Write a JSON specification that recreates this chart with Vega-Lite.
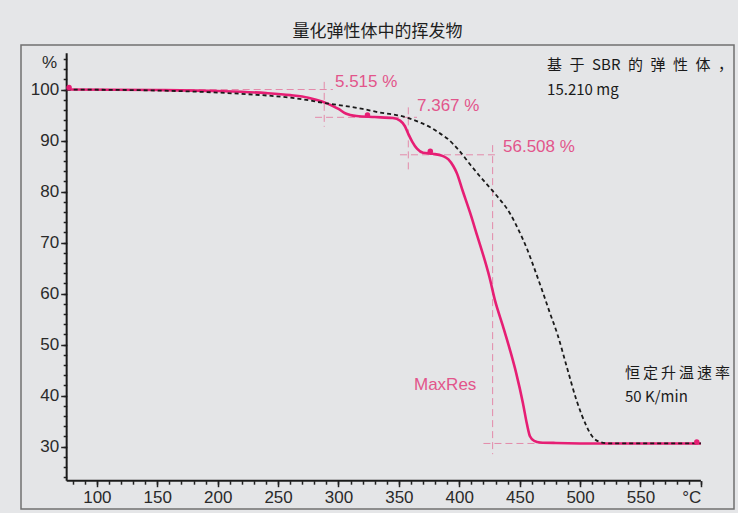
{
  "$schema": "https://vega.github.io/schema/vega-lite/v6.json",
  "width": 713,
  "height": 464,
  "autosize": "none",
  "padding": {"left": 21, "top": 45, "right": 4, "bottom": 4},
  "background": "#e5e6e8",
  "view": {"stroke": "#707070", "strokeWidth": 1.5, "fill": "#e4e5e7"},
  "title": {"text": "量化弹性体中的挥发物", "font": "Noto Sans CJK SC", "fontSize": 17, "fontWeight": "normal", "color": "#1e1e1e", "anchor": "middle", "offset": 4},
  "resolve": {"axis": {"x": "independent", "y": "independent"}},
  "datasets": {
    "curves": [
      {"t": 75, "v": 100, "s": "sample"}, {"t": 150, "v": 99.9, "s": "sample"}, {"t": 200, "v": 99.7, "s": "sample"}, {"t": 240, "v": 99.3, "s": "sample"},
      {"t": 260, "v": 98.9, "s": "sample"}, {"t": 275, "v": 98.4, "s": "sample"}, {"t": 287, "v": 97.6, "s": "sample"}, {"t": 295, "v": 96.8, "s": "sample"},
      {"t": 300, "v": 96.2, "s": "sample"}, {"t": 306, "v": 95.3, "s": "sample"}, {"t": 315, "v": 94.8, "s": "sample"}, {"t": 330, "v": 94.6, "s": "sample"},
      {"t": 345, "v": 94.4, "s": "sample"}, {"t": 351, "v": 93.9, "s": "sample"}, {"t": 355, "v": 92.8, "s": "sample"}, {"t": 358, "v": 91.2, "s": "sample"},
      {"t": 361, "v": 89.8, "s": "sample"}, {"t": 365, "v": 88.4, "s": "sample"}, {"t": 370, "v": 87.6, "s": "sample"}, {"t": 378, "v": 87.4, "s": "sample"},
      {"t": 386, "v": 87.0, "s": "sample"}, {"t": 391, "v": 86.3, "s": "sample"}, {"t": 395, "v": 85.0, "s": "sample"}, {"t": 398, "v": 83.6, "s": "sample"},
      {"t": 403, "v": 80.0, "s": "sample"}, {"t": 409, "v": 75.8, "s": "sample"}, {"t": 415, "v": 71.2, "s": "sample"}, {"t": 421, "v": 66.6, "s": "sample"},
      {"t": 425, "v": 63.2, "s": "sample"}, {"t": 429.5, "v": 58.7, "s": "sample"}, {"t": 436, "v": 53.7, "s": "sample"}, {"t": 442, "v": 48.9, "s": "sample"},
      {"t": 447, "v": 44.5, "s": "sample"}, {"t": 452.7, "v": 38.5, "s": "sample"}, {"t": 456, "v": 34.4, "s": "sample"}, {"t": 458.5, "v": 32.0, "s": "sample"},
      {"t": 462, "v": 31.1, "s": "sample"}, {"t": 467, "v": 30.8, "s": "sample"}, {"t": 480, "v": 30.7, "s": "sample"}, {"t": 520, "v": 30.6, "s": "sample"},
      {"t": 600, "v": 30.6, "s": "sample"},
      {"t": 75, "v": 100, "s": "ref"}, {"t": 150, "v": 99.8, "s": "ref"}, {"t": 200, "v": 99.4, "s": "ref"}, {"t": 230, "v": 99.0, "s": "ref"},
      {"t": 252, "v": 98.6, "s": "ref"}, {"t": 270, "v": 98.1, "s": "ref"}, {"t": 287, "v": 97.4, "s": "ref"}, {"t": 305, "v": 96.8, "s": "ref"},
      {"t": 320, "v": 96.2, "s": "ref"}, {"t": 334, "v": 95.5, "s": "ref"}, {"t": 348, "v": 95.0, "s": "ref"}, {"t": 358, "v": 94.4, "s": "ref"},
      {"t": 368, "v": 93.5, "s": "ref"}, {"t": 376, "v": 92.6, "s": "ref"}, {"t": 382, "v": 91.7, "s": "ref"}, {"t": 390, "v": 90.4, "s": "ref"},
      {"t": 400, "v": 88.0, "s": "ref"}, {"t": 409, "v": 85.3, "s": "ref"}, {"t": 417, "v": 83.0, "s": "ref"}, {"t": 429.5, "v": 79.6, "s": "ref"},
      {"t": 442, "v": 75.7, "s": "ref"}, {"t": 450, "v": 72.0, "s": "ref"}, {"t": 456, "v": 68.8, "s": "ref"}, {"t": 462, "v": 65.0, "s": "ref"},
      {"t": 469.5, "v": 60.0, "s": "ref"}, {"t": 475, "v": 56.2, "s": "ref"}, {"t": 481, "v": 52.2, "s": "ref"}, {"t": 489, "v": 45.6, "s": "ref"},
      {"t": 497, "v": 39.1, "s": "ref"}, {"t": 505.5, "v": 33.9, "s": "ref"}, {"t": 510, "v": 32.0, "s": "ref"}, {"t": 516.5, "v": 30.9, "s": "ref"},
      {"t": 525, "v": 30.6, "s": "ref"}, {"t": 600, "v": 30.6, "s": "ref"}
    ],
    "guides": [
      {"t1": 75, "t2": 295.4, "v1": 100, "v2": 100},
      {"t1": 288.2, "t2": 288.2, "v1": 101.5, "v2": 92.7},
      {"t1": 280.6, "t2": 365, "v1": 94.55, "v2": 94.55},
      {"t1": 357.8, "t2": 357.8, "v1": 96.5, "v2": 84},
      {"t1": 350.9, "t2": 429.5, "v1": 87.2, "v2": 87.2},
      {"t1": 427.6, "t2": 427.6, "v1": 89.1, "v2": 28.5},
      {"t1": 420, "t2": 602, "v1": 30.6, "v2": 30.6}
    ],
    "axislines": [
      {"t1": 75, "t2": 75, "v1": 23.3, "v2": 107.1},
      {"t1": 75, "t2": 600, "v1": 23.3, "v2": 23.3}
    ],
    "markers": [
      {"t": 77, "v": 100.4}, {"t": 324, "v": 95.0}, {"t": 376, "v": 87.9}, {"t": 596.6, "v": 30.9}
    ],
    "pinklabels": [
      {"t": 297.1, "v": 101.5, "text": "5.515 %"},
      {"t": 365, "v": 96.8, "text": "7.367 %"},
      {"t": 436.2, "v": 88.7, "text": "56.508 %"},
      {"t": 362.5, "v": 42.1, "text": "MaxRes"}
    ],
    "notes": [
      {"t": 472.7, "v": 104.8, "text": "基\u2002于\u2002SBR\u2002的\u2002弹\u2002性\u2002体\u2002，"},
      {"t": 472.7, "v": 99.9, "text": "15.210 mg"},
      {"t": 537.2, "v": 44.4, "text": "恒\u2009定\u2009升\u2009温\u2009速\u2009率"},
      {"t": 537.2, "v": 39.7, "text": "50 K/min"}
    ],
    "unit": [
      {"t": 67, "v": 105.2, "text": "%"}
    ]
  },
  "layer": [
    {
      "data": {"name": "guides"},
      "mark": {"type": "rule", "stroke": "#e38aaa", "strokeWidth": 1, "strokeDash": [7, 4]},
      "encoding": {
        "x": {"field": "t1", "type": "quantitative", "scale": {"domain": [37.2, 627.4], "nice": false, "zero": false},
          "axis": {"orient": "bottom", "offset": -28.3, "domain": false, "grid": false, "title": null, "labels": false,
            "values": [80,90,100,110,120,130,140,150,160,170,180,190,200,210,220,230,240,250,260,270,280,290,300,310,320,330,340,350,360,370,380,390,400,410,420,430,440,450,460,470,480,490,500,510,520,530,540,550,560,570,580,590,600],
            "tickSize": 3.5, "tickColor": "#222", "tickWidth": 1.5}},
        "x2": {"field": "t2"},
        "y": {"field": "v1", "type": "quantitative", "scale": {"domain": [17.75, 108.73], "nice": false, "zero": false},
          "axis": {"orient": "left", "offset": -45.7, "domain": false, "grid": false, "title": null, "labels": false,
            "values": [24,26,28,30,32,34,36,38,40,42,44,46,48,50,52,54,56,58,60,62,64,66,68,70,72,74,76,78,80,82,84,86,88,90,92,94,96,98,100,102,104,106],
            "tickSize": 3.5, "tickColor": "#222", "tickWidth": 1.5}},
        "y2": {"field": "v2"}
      }
    },
    {
      "data": {"name": "axislines"},
      "mark": {"type": "rule", "stroke": "#1a1a1a", "strokeWidth": 2},
      "encoding": {
        "x": {"field": "t1", "type": "quantitative",
          "axis": {"orient": "bottom", "offset": -28.3, "domain": false, "grid": false, "title": null,
            "values": [100,150,200,250,300,350,400,450,500,550,600],
            "labelExpr": "datum.value == 600 ? '°C' : datum.label",
            "labelAlign": {"condition": {"test": "datum.value == 600", "value": "right"}, "value": "center"},
            "tickSize": 6, "tickColor": "#222", "tickWidth": 1.5,
            "labelFont": "Liberation Sans", "labelFontSize": 17, "labelColor": "#2a2a2a", "labelPadding": 3,
            "labelOverlap": false, "labelFlush": false}},
        "x2": {"field": "t2"},
        "y": {"field": "v1", "type": "quantitative",
          "axis": {"orient": "left", "offset": -45.7, "domain": false, "grid": false, "title": null,
            "values": [30,40,50,60,70,80,90,100],
            "tickSize": 6, "tickColor": "#222", "tickWidth": 1.5,
            "labelFont": "Liberation Sans", "labelFontSize": 17, "labelColor": "#2a2a2a", "labelPadding": 2,
            "labelOverlap": false, "labelFlush": false}},
        "y2": {"field": "v2"}
      }
    },
    {
      "data": {"name": "curves"},
      "transform": [{"filter": "datum.s == 'sample'"}],
      "mark": {"type": "line", "stroke": "#e61e74", "strokeWidth": 2.6, "interpolate": "monotone"},
      "encoding": {
        "x": {"field": "t", "type": "quantitative", "axis": null},
        "y": {"field": "v", "type": "quantitative", "axis": null}
      }
    },
    {
      "data": {"name": "curves"},
      "transform": [{"filter": "datum.s == 'ref'"}],
      "mark": {"type": "line", "stroke": "#1a1a1a", "strokeWidth": 1.8, "strokeDash": [4, 3], "interpolate": "monotone"},
      "encoding": {
        "x": {"field": "t", "type": "quantitative", "axis": null},
        "y": {"field": "v", "type": "quantitative", "axis": null}
      }
    },
    {
      "data": {"name": "markers"},
      "mark": {"type": "point", "shape": "circle", "filled": true, "size": 30, "color": "#e61e74", "opacity": 1},
      "encoding": {
        "x": {"field": "t", "type": "quantitative", "axis": null},
        "y": {"field": "v", "type": "quantitative", "axis": null}
      }
    },
    {
      "data": {"name": "pinklabels"},
      "mark": {"type": "text", "align": "left", "baseline": "middle", "font": "Liberation Sans", "fontSize": 17, "color": "#e2558b"},
      "encoding": {
        "x": {"field": "t", "type": "quantitative", "axis": null},
        "y": {"field": "v", "type": "quantitative", "axis": null},
        "text": {"field": "text"}
      }
    },
    {
      "data": {"name": "notes"},
      "mark": {"type": "text", "align": "left", "baseline": "middle", "font": "Noto Sans CJK SC", "fontSize": 15, "color": "#1a1a1a"},
      "encoding": {
        "x": {"field": "t", "type": "quantitative", "axis": null},
        "y": {"field": "v", "type": "quantitative", "axis": null},
        "text": {"field": "text"}
      }
    },
    {
      "data": {"name": "unit"},
      "mark": {"type": "text", "align": "right", "baseline": "middle", "font": "Liberation Sans", "fontSize": 17, "color": "#2a2a2a"},
      "encoding": {
        "x": {"field": "t", "type": "quantitative", "axis": null},
        "y": {"field": "v", "type": "quantitative", "axis": null},
        "text": {"field": "text"}
      }
    }
  ]
}
